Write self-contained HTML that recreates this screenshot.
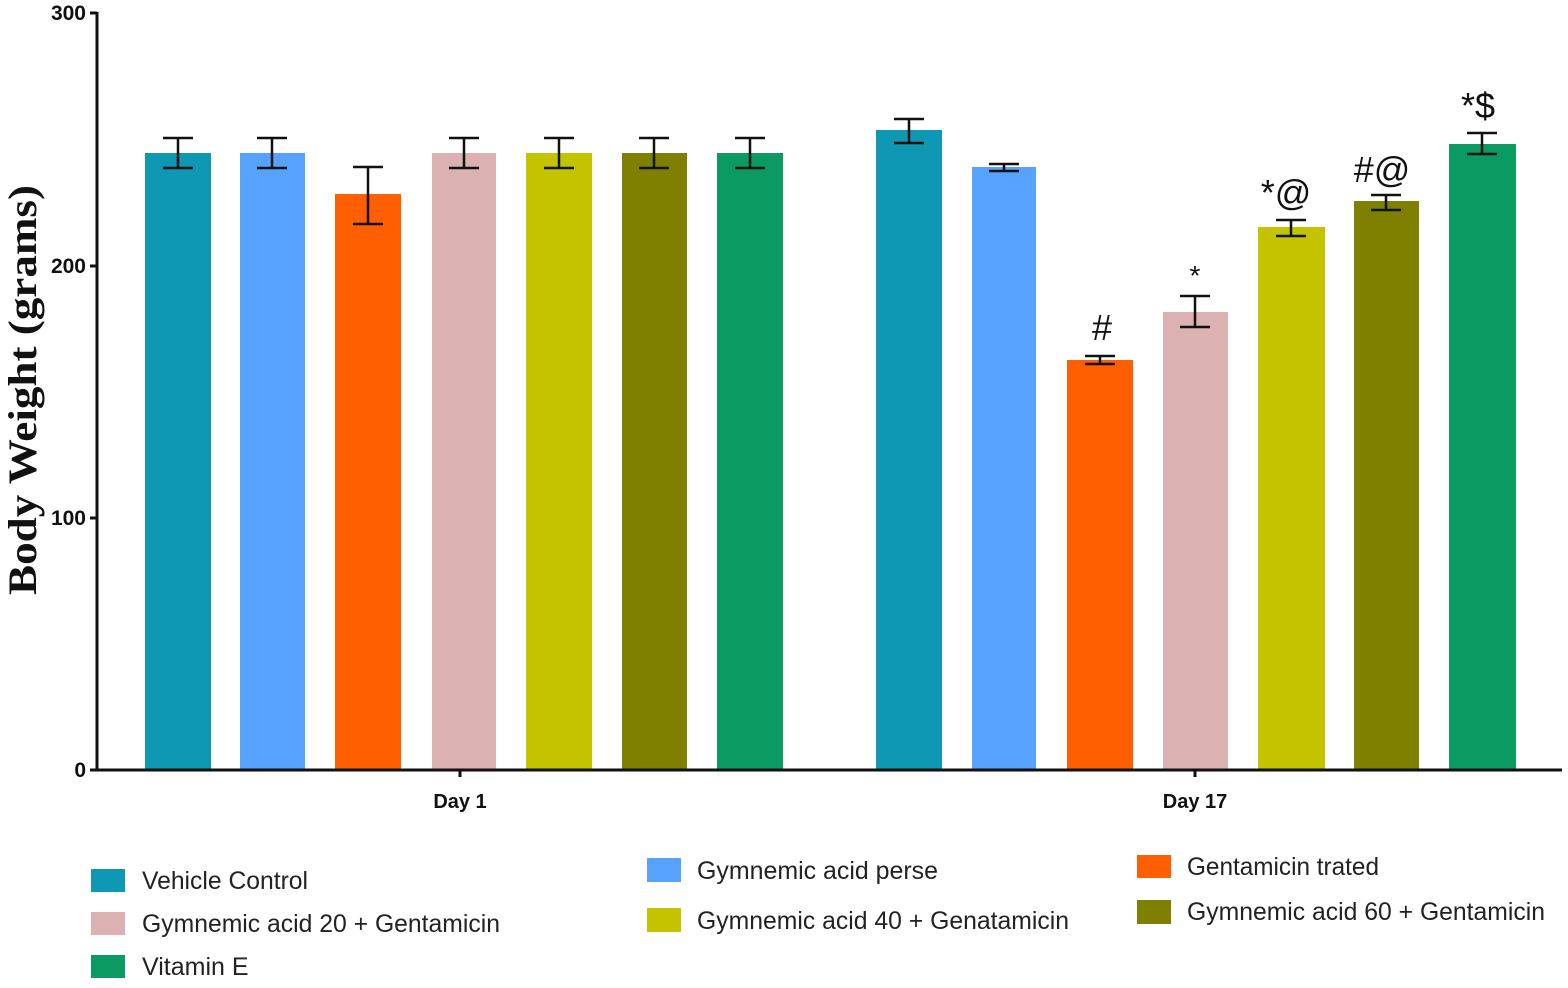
<!DOCTYPE html>
<html><head><style>body{margin:0;background:#fff}</style></head><body>
<svg width="1568" height="983" xmlns="http://www.w3.org/2000/svg" font-family="Liberation Sans, sans-serif">
<rect width="1568" height="983" fill="#fff"/>
<g>
<rect x="145" y="153" width="66" height="617" fill="#0F98B3"/>
<rect x="240" y="153" width="65" height="617" fill="#57A2FC"/>
<rect x="335" y="194" width="66" height="576" fill="#FF5F00"/>
<rect x="432" y="153" width="64" height="617" fill="#DCB1B2"/>
<rect x="526" y="153" width="66" height="617" fill="#C4C300"/>
<rect x="622" y="153" width="65" height="617" fill="#808000"/>
<rect x="717" y="153" width="66" height="617" fill="#0B9A62"/>
<rect x="876" y="130" width="66" height="640" fill="#0F98B3"/>
<rect x="972" y="167" width="64" height="603" fill="#57A2FC"/>
<rect x="1067" y="360" width="66" height="410" fill="#FF5F00"/>
<rect x="1163" y="312" width="65" height="458" fill="#DCB1B2"/>
<rect x="1258" y="227" width="67" height="543" fill="#C4C300"/>
<rect x="1354" y="201" width="65" height="569" fill="#808000"/>
<rect x="1449" y="144" width="67" height="626" fill="#0B9A62"/>
</g>
<g stroke="#111" stroke-width="2.5" fill="none">
<path d="M178 138V168M163 138H193M163 168H193"/>
<path d="M272 138V168M257 138H287M257 168H287"/>
<path d="M368 167V224M353 167H383M353 224H383"/>
<path d="M464 138V168M449 138H479M449 168H479"/>
<path d="M559 138V168M544 138H574M544 168H574"/>
<path d="M654 138V168M639 138H669M639 168H669"/>
<path d="M750 138V168M735 138H765M735 168H765"/>
<path d="M909 119V143M894 119H924M894 143H924"/>
<path d="M1004 164V171M989 164H1019M989 171H1019"/>
<path d="M1100 356V364M1085 356H1115M1085 364H1115"/>
<path d="M1195 296V327M1180 296H1210M1180 327H1210"/>
<path d="M1291 220V236M1276 220H1306M1276 236H1306"/>
<path d="M1386 195V210M1371 195H1401M1371 210H1401"/>
<path d="M1482 133V154M1467 133H1497M1467 154H1497"/>
</g>
<g stroke="#111" stroke-width="3" fill="none">
<path d="M97 12V770H1562"/>
<path d="M90 13H97M90 266H97M90 518H97M90 770H97"/>
<path d="M460 770V777M1195 770V777"/>
</g>
<g font-weight="bold" font-size="21" text-anchor="end" fill="#111">
<text x="86" y="20">300</text>
<text x="86" y="273">200</text>
<text x="86" y="525">100</text>
<text x="86" y="777">0</text>
</g>
<g font-weight="bold" font-size="20" text-anchor="middle" fill="#111">
<text x="460" y="808">Day 1</text>
<text x="1195" y="808">Day 17</text>
</g>
<text transform="translate(36,390) rotate(-90)" text-anchor="middle" font-family="Liberation Serif, serif" font-weight="bold" font-size="40" textLength="410" lengthAdjust="spacingAndGlyphs" fill="#111">Body Weight (grams)</text>
<g font-size="36" text-anchor="middle" fill="#111">
<text x="1102" y="340">#</text>
<text x="1195" y="285" font-size="28">*</text>
<text x="1286" y="205">*@</text>
<text x="1382" y="182">#@</text>
<text x="1478" y="118">*$</text>
</g>
<g font-size="25" fill="#222">
<rect x="91" y="869" width="34" height="23" fill="#0F98B3"/><text x="142" y="889" textLength="166" lengthAdjust="spacingAndGlyphs">Vehicle Control</text>
<rect x="91" y="912" width="34" height="23" fill="#DCB1B2"/><text x="142" y="932" textLength="358" lengthAdjust="spacingAndGlyphs">Gymnemic acid 20 + Gentamicin</text>
<rect x="91" y="955" width="34" height="23" fill="#0B9A62"/><text x="142" y="975">Vitamin E</text>
<rect x="647" y="858" width="34" height="24" fill="#57A2FC"/><text x="697" y="879" textLength="241" lengthAdjust="spacingAndGlyphs">Gymnemic acid perse</text>
<rect x="647" y="908" width="34" height="24" fill="#C4C300"/><text x="697" y="929" textLength="372" lengthAdjust="spacingAndGlyphs">Gymnemic acid 40 + Genatamicin</text>
<rect x="1137" y="855" width="34" height="23" fill="#FF5F00"/><text x="1187" y="875" textLength="192" lengthAdjust="spacingAndGlyphs">Gentamicin trated</text>
<rect x="1137" y="900" width="34" height="24" fill="#808000"/><text x="1187" y="920" textLength="358" lengthAdjust="spacingAndGlyphs">Gymnemic acid 60 + Gentamicin</text>
</g>
</svg>
</body></html>
